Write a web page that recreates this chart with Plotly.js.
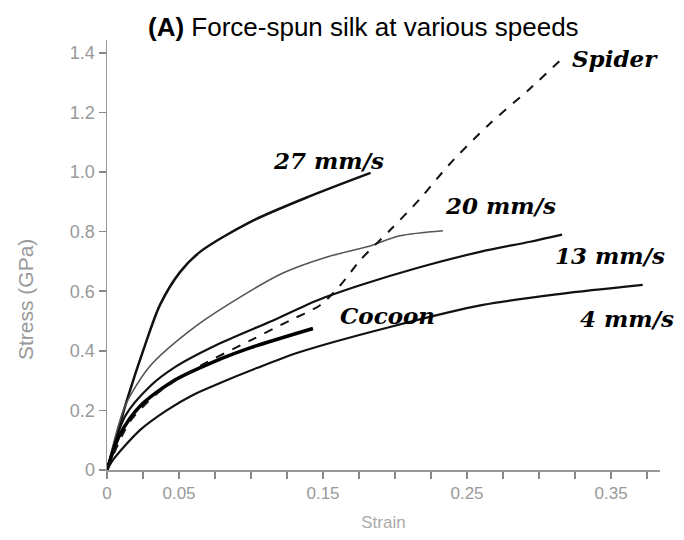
<!DOCTYPE html>
<html>
<head>
<meta charset="utf-8">
<script src="https://cdn.plot.ly/plotly-3.0.1.min.js"></script>
<style>html,body{margin:0;padding:0;background:#fff;}#chart{width:684px;height:540px;}</style>
</head>
<body>
<div id="chart"></div>
<script>
// Strain values (x) and stress values (GPa)
const x27 = [0, 0.0139, 0.0264, 0.0368, 0.0507, 0.0646, 0.0993, 0.141, 0.183];
const y27 = [0, 0.235, 0.419, 0.554, 0.664, 0.732, 0.832, 0.919, 0.997];

const x20 = [0, 0.0125, 0.0299, 0.0576, 0.0854, 0.1222, 0.1528, 0.1806, 0.2035, 0.2333];
const y20 = [0, 0.214, 0.349, 0.468, 0.559, 0.661, 0.715, 0.749, 0.786, 0.803];

const x13 = [0, 0.0125, 0.0299, 0.0472, 0.0785, 0.1153, 0.1458, 0.1757, 0.2153, 0.2590, 0.2938, 0.3160];
const y13 = [0, 0.180, 0.281, 0.345, 0.425, 0.502, 0.569, 0.620, 0.678, 0.732, 0.766, 0.790];

const xCocoon = [0, 0.009, 0.0229, 0.0458, 0.0806, 0.0993, 0.143];
const yCocoon = [0, 0.119, 0.214, 0.298, 0.376, 0.410, 0.475];

const x4 = [0, 0.0042, 0.0229, 0.0417, 0.0597, 0.0785, 0.104, 0.134, 0.1965, 0.261, 0.315, 0.372];
const y4 = [0, 0.034, 0.134, 0.201, 0.252, 0.292, 0.342, 0.396, 0.480, 0.554, 0.591, 0.621];

const xSpider = [0, 0.016, 0.0368, 0.0646, 0.0993, 0.127, 0.148, 0.162, 0.176, 0.197, 0.217, 0.238, 0.266, 0.294, 0.318];
const ySpider = [0, 0.163, 0.264, 0.349, 0.434, 0.502, 0.553, 0.620, 0.705, 0.807, 0.908, 1.027, 1.163, 1.281, 1.390];

const xTickVals = [0, 0.025, 0.05, 0.075, 0.1, 0.125, 0.15, 0.175, 0.2, 0.225, 0.25, 0.275, 0.3, 0.325, 0.35, 0.375];
const xTickText = ['0', '', '0.05', '', '', '', '0.15', '', '', '', '0.25', '', '', '', '0.35', ''];
const yTickVals = [0, 0.2, 0.4, 0.6, 0.8, 1.0, 1.2, 1.4];
const yTickText = ['0', '0.2', '0.4', '0.6', '0.8', '1.0', '1.2', '1.4'];

const labels = ['27 mm/s', '20 mm/s', '13 mm/s', 'Cocoon', '4 mm/s', 'Spider'];
const labelX = [0.1535, 0.273, 0.349, 0.195, 0.361, 0.353];
const labelY = [1.04, 0.889, 0.721, 0.52, 0.51, 1.38];

const traces = [
  {x: x27, y: y27, mode: 'lines', line: {color: '#111', width: 2.5, shape: 'spline', smoothing: 0.8}},
  {x: x20, y: y20, mode: 'lines', line: {color: '#555', width: 1.6, shape: 'spline', smoothing: 0.8}},
  {x: x13, y: y13, mode: 'lines', line: {color: '#111', width: 2.2, shape: 'spline', smoothing: 0.8}},
  {x: xCocoon, y: yCocoon, mode: 'lines', line: {color: '#000', width: 3.5, shape: 'spline', smoothing: 0.8}},
  {x: x4, y: y4, mode: 'lines', line: {color: '#111', width: 2.2, shape: 'spline', smoothing: 0.8}},
  {x: xSpider, y: ySpider, mode: 'lines', line: {color: '#111', width: 2, dash: 'dash', shape: 'spline', smoothing: 0.8}}
];

const annotations = labels.map((t, i) => ({
  x: labelX[i], y: labelY[i], xref: 'x', yref: 'y', text: t, showarrow: false,
  font: {family: 'DejaVu Serif', size: 23, color: '#000', style: 'italic', weight: 'bold'},
  xanchor: 'center', yanchor: 'middle'
}));

annotations.push({
  xref: 'paper', yref: 'paper', x: (25 - 107) / 553, y: (470 - 300) / 430,
  text: 'Stress (GPa)', textangle: -90, showarrow: false,
  font: {family: 'Liberation Sans', size: 21, color: '#999'},
  xanchor: 'center', yanchor: 'middle'
});

const layout = {
  width: 684, height: 540,
  margin: {l: 107, r: 24, t: 40, b: 70},
  paper_bgcolor: '#fff', plot_bgcolor: '#fff',
  showlegend: false,
  title: {
    text: '<b>(A)</b> Force-spun silk at various speeds',
    font: {family: 'Liberation Sans', size: 26, color: '#000'},
    xref: 'container', x: 148 / 684, xanchor: 'left',
    yref: 'container', y: 1 - 27 / 540, yanchor: 'middle'
  },
  xaxis: {
    range: [0, 0.384], tickvals: xTickVals, ticktext: xTickText,
    ticks: 'outside', ticklen: 7, tickcolor: '#888', tickwidth: 1.5,
    showline: true, linecolor: '#999', linewidth: 1.5, showgrid: false, zeroline: false,
    tickfont: {family: 'Liberation Sans', size: 17, color: '#999'},
    title: {text: 'Strain', font: {family: 'Liberation Sans', size: 17, color: '#aaa'}, standoff: 14}
  },
  yaxis: {
    range: [0, 1.443], tickvals: yTickVals, ticktext: yTickText,
    ticks: 'outside', ticklen: 7, tickcolor: '#888', tickwidth: 1.5,
    showline: true, linecolor: '#999', linewidth: 1.5, showgrid: false, zeroline: false,
    tickfont: {family: 'Liberation Sans', size: 18, color: '#999'}
  },
  annotations: annotations
};

Plotly.newPlot('chart', traces, layout, {displayModeBar: false, staticPlot: true});
</script>
</body>
</html>
